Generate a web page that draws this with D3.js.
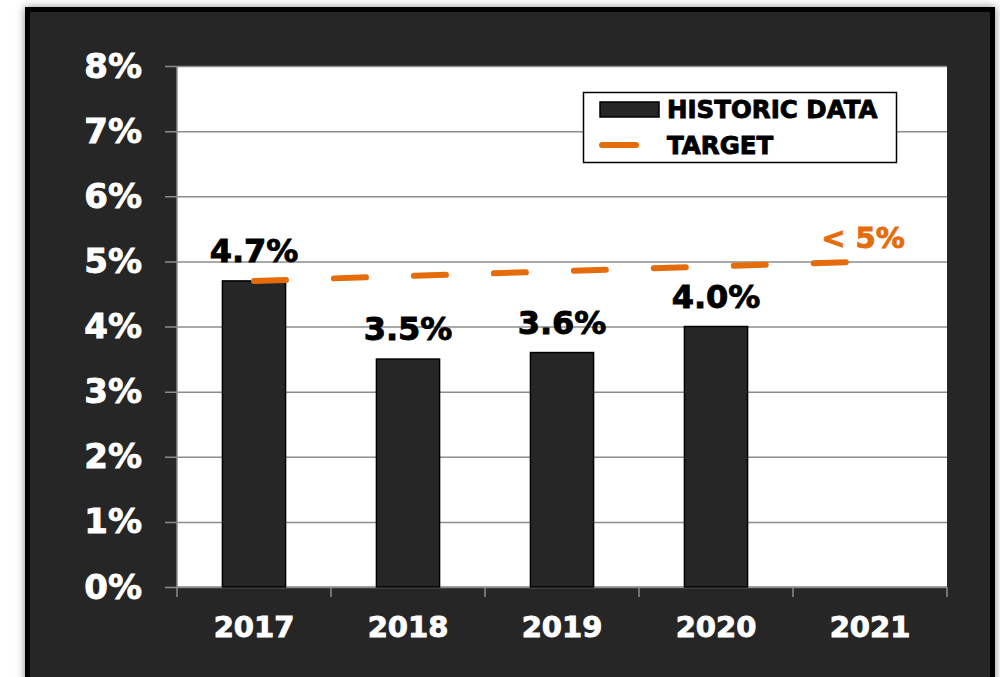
<!DOCTYPE html>
<html>
<head>
<meta charset="utf-8">
<script src="https://cdn.jsdelivr.net/npm/d3@7"></script>
<style>
  body { margin: 0; background: #fff; }
  text { font-family: "DejaVu Sans", sans-serif; font-weight: bold; stroke-width: 0.9px; paint-order: stroke; }
</style>
</head>
<body>
<div id="chart"></div>
<script>
  // data
  var years = ["2017", "2018", "2019", "2020", "2021"]
  var historic = [4.7, 3.5, 3.6, 4.0, null]
  var target = [4.7, null, null, null, 5.0]
  var yTicks = [0, 1, 2, 3, 4, 5, 6, 7, 8]
  var targetLabel = "< 5%"

  var orange = "#E46C0A"
  var width = 1000, height = 677
  var plot = { left: 177, right: 947, top: 66, bottom: 587 }

  var svg = d3.select("#chart").append("svg")
    .attr("width", width)
    .attr("height", height)

  var defs = svg.append("defs")
  var f = defs.append("filter").attr("id", "shadow")
    .attr("x", "-5%").attr("y", "-5%").attr("width", "110%").attr("height", "110%")
  f.append("feDropShadow")
    .attr("dx", 0).attr("dy", 0)
    .attr("stdDeviation", 4)
    .attr("flood-color", "#777")
    .attr("flood-opacity", 0.9)

  // dark frame
  svg.append("rect")
    .attr("x", 27.5).attr("y", 9.5)
    .attr("width", 965).attr("height", 690)
    .style("fill", "#262626")
    .style("stroke", "#000")
    .style("stroke-width", 5)
    .attr("filter", "url(#shadow)")

  var x = d3.scaleBand()
    .domain(years)
    .range([plot.left, plot.right])
    .paddingInner(0)

  var y = d3.scaleLinear()
    .domain([0, 8])
    .range([plot.bottom, plot.top])

  // plot area
  svg.append("rect")
    .attr("x", plot.left).attr("y", plot.top)
    .attr("width", plot.right - plot.left)
    .attr("height", plot.bottom - plot.top)
    .style("fill", "#fff")

  // y axis with gridlines
  var yAxis = d3.axisLeft(y)
    .tickValues(yTicks)
    .tickSize(-(plot.right - plot.left + 12))
    .tickFormat(function (d) { return d + "%" })

  var gy = svg.append("g")
    .attr("transform", "translate(" + plot.right + ",0)")
  gy.call(yAxis)
  gy.select(".domain").remove()
  gy.selectAll(".tick line")
    .attr("x1", 0)
    .attr("x2", -(plot.right - plot.left + 12))
    .style("stroke", "#8c8c8c")
    .style("stroke-width", 1.5)
  gy.selectAll(".tick text").remove()

  svg.append("line")
    .attr("x1", plot.left).attr("x2", plot.left)
    .attr("y1", plot.top).attr("y2", plot.bottom)
    .style("stroke", "#8c8c8c").style("stroke-width", 1.5)

  svg.selectAll(".ylabel")
    .data(yTicks)
    .enter().append("text")
    .attr("class", "ylabel")
    .attr("x", 142)
    .attr("y", function (d) { return y(d) })
    .attr("dy", "0.34em")
    .attr("text-anchor", "end")
    .style("fill", "#fff")
    .style("stroke", "#fff")
    .style("font-size", "34px")
    .text(function (d) { return d + "%" })

  // x axis ticks at category boundaries
  var bounds = years.map(function (d) { return x(d) }).concat([plot.right])
  svg.selectAll(".xtick")
    .data(bounds)
    .enter().append("line")
    .attr("x1", function (d) { return d }).attr("x2", function (d) { return d })
    .attr("y1", plot.bottom).attr("y2", plot.bottom + 10)
    .style("stroke", "#8c8c8c").style("stroke-width", 1.5)

  svg.append("line")
    .attr("x1", plot.left).attr("x2", plot.right)
    .attr("y1", plot.bottom).attr("y2", plot.bottom)
    .style("stroke", "#8c8c8c").style("stroke-width", 1.5)

  svg.selectAll(".xlabel")
    .data(years)
    .enter().append("text")
    .attr("class", "xlabel")
    .attr("x", function (d) { return x(d) + x.bandwidth() / 2 })
    .attr("y", 637)
    .attr("text-anchor", "middle")
    .style("fill", "#fff")
    .style("stroke", "#fff")
    .style("font-size", "29px")
    .text(function (d) { return d })

  // bars
  var barW = x.bandwidth() * 0.41
  var barData = years.map(function (d, i) { return { year: d, value: historic[i] } })
    .filter(function (d) { return d.value != null })

  svg.selectAll(".bar")
    .data(barData)
    .enter().append("rect")
    .attr("class", "bar")
    .attr("x", function (d) { return x(d.year) + (x.bandwidth() - barW) / 2 })
    .attr("width", barW)
    .attr("y", function (d) { return y(d.value) })
    .attr("height", function (d) { return y(0) - y(d.value) })
    .style("fill", "#262626")
    .style("stroke", "#000")
    .style("stroke-width", 1.5)

  svg.selectAll(".barlabel")
    .data(barData)
    .enter().append("text")
    .attr("class", "barlabel")
    .attr("x", function (d) { return x(d.year) + x.bandwidth() / 2 })
    .attr("y", function (d) { return y(d.value) - 19 })
    .attr("text-anchor", "middle")
    .style("fill", "#000")
    .style("stroke", "#000")
    .style("font-size", "32px")
    .text(function (d) { return d.value.toFixed(1) + "%" })

  // target line
  var targetData = years.map(function (d, i) { return { year: d, value: target[i] } })
    .filter(function (d) { return d.value != null })

  var line = d3.line()
    .x(function (d) { return x(d.year) + x.bandwidth() / 2 })
    .y(function (d) { return y(d.value) })

  svg.append("path")
    .datum(targetData)
    .attr("d", line)
    .style("fill", "none")
    .style("stroke", orange)
    .style("stroke-width", 6)
    .style("stroke-linecap", "round")
    .style("stroke-dasharray", "32,48")

  var last = targetData[targetData.length - 1]
  svg.append("text")
    .attr("x", x(last.year) + x.bandwidth() / 2 - 7)
    .attr("y", y(last.value) - 13)
    .attr("text-anchor", "middle")
    .style("fill", orange)
    .style("stroke", orange)
    .style("font-size", "29px")
    .text(targetLabel)

  // legend
  var lg = svg.append("g")
  lg.append("rect")
    .attr("x", 583.5).attr("y", 92.5)
    .attr("width", 313).attr("height", 70)
    .style("fill", "#fff")
    .style("stroke", "#000")
    .style("stroke-width", 1.5)
  lg.append("rect")
    .attr("x", 600).attr("y", 102)
    .attr("width", 59).attr("height", 15)
    .style("fill", "#262626")
    .style("stroke", "#000")
    .style("stroke-width", 1.5)
  lg.append("line")
    .attr("x1", 602).attr("x2", 636)
    .attr("y1", 145).attr("y2", 145)
    .style("stroke", orange)
    .style("stroke-width", 6)
    .style("stroke-linecap", "round")
  lg.append("text")
    .attr("x", 667).attr("y", 118)
    .style("font-size", "24.5px")
    .style("fill", "#000")
    .style("stroke", "#000")
    .text("HISTORIC DATA")
  lg.append("text")
    .attr("x", 667).attr("y", 154)
    .style("font-size", "24.5px")
    .style("fill", "#000")
    .style("stroke", "#000")
    .text("TARGET")
</script>
</body>
</html>
